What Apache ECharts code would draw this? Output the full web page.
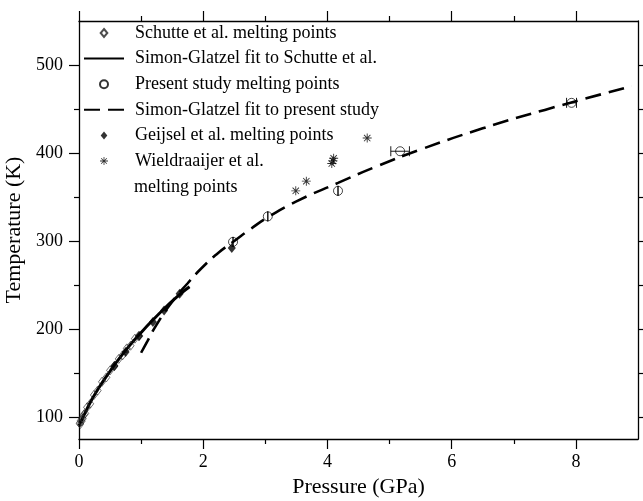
<!DOCTYPE html>
<html>
<head>
<meta charset="utf-8">
<script src="https://cdn.jsdelivr.net/npm/echarts@6/dist/echarts.min.js"></script>
<style>
  html, body { margin: 0; padding: 0; background: #fff; }
  #main { width: 643px; height: 501px; }
</style>
</head>
<body>
<div id="main"></div>
<script>
// melting data: [pressure GPa, temperature K]
var schuttePoints = [[0.01, 93], [0.02, 92], [0.03, 96], [0.04, 95], [0.05, 99], [0.06, 98],
  [0.08, 103], [0.1, 104], [0.13, 111], [0.18, 115], [0.24, 125], [0.3, 130], [0.37, 140],
  [0.44, 145], [0.5, 153], [0.57, 158], [0.64, 166], [0.7, 170], [0.77, 178], [0.83, 181],
  [0.9, 189], [0.96, 192]];
var schutteFit = [[0, 90], [0.1, 105], [0.2, 119], [0.3, 131], [0.4, 142], [0.5, 152], [0.6, 162],
  [0.8, 180], [1.0, 196], [1.2, 211], [1.4, 225], [1.6, 238], [1.78, 248]];
var presentPoints = [[2.48, 299], [3.04, 328], [4.17, 357], [5.17, 402], [7.93, 457]];
var presentErr = [0, 0, 0, 0.15, 0.08];
var presentFit = [[1.0, 173], [1.1, 186], [1.25, 205], [1.5, 231], [1.75, 252], [2.0, 271],
  [2.25, 287], [2.5, 300], [2.75, 313], [3.04, 327], [3.5, 345], [4.17, 366], [4.8, 385],
  [5.5, 404], [6.5, 428], [7.5, 449], [8.9, 476]];
var geijselPoints = [[0.57, 158], [0.75, 174], [0.97, 192], [1.19, 208], [1.37, 221], [1.62, 240], [2.46, 292]];
var wieldPoints = [[3.49, 357], [3.66, 368], [4.07, 388], [4.09, 391], [4.1, 394], [4.64, 417]];

var xMajor = [0, 2, 4, 6, 8];
var xMinor = [1, 3, 5, 7];
var yMajor = [100, 200, 300, 400, 500];
var yMinor = [150, 250, 350, 450];

var FONT = '"Liberation Serif", "Times New Roman", serif';
var diamond = 'path://M5 0L10 6L5 12L0 6Z';
var asterisk = 'path://M0 9L20 9L20 11L0 11Z M9 0L11 0L11 20L9 20Z M2.2 3.6L3.6 2.2L17.8 16.4L16.4 17.8Z M16.4 2.2L17.8 3.6L3.6 17.8L2.2 16.4Z';

var myChart = echarts.init(document.getElementById('main'));

function xAxisOf(pos, ticks, len, withLine, withLabel) {
  return {
    type: 'value', position: pos, min: 0, max: 9,
    splitLine: { show: false },
    axisLine: { show: withLine, onZero: false, lineStyle: { color: '#000', width: 1.3 } },
    axisTick: { show: true, inside: false, length: len, customValues: ticks, lineStyle: { color: '#000', width: 1.2 } },
    axisLabel: { show: withLabel, customValues: ticks, margin: 14, color: '#000', fontFamily: FONT, fontSize: 18 }
  };
}
function yAxisOf(pos, ticks, len, withLine, withLabel) {
  return {
    type: 'value', position: pos, min: 75, max: 550,
    splitLine: { show: false },
    axisLine: { show: withLine, onZero: false, lineStyle: { color: '#000', width: 1.3 } },
    axisTick: { show: true, inside: false, length: len, customValues: ticks, lineStyle: { color: '#000', width: 1.2 } },
    axisLabel: { show: withLabel, customValues: ticks, margin: 16, color: '#000', fontFamily: FONT, fontSize: 18 }
  };
}

var xMain = xAxisOf('bottom', xMajor, 10, true, true);
xMain.name = 'Pressure (GPa)';
xMain.nameLocation = 'middle';
xMain.nameGap = 35;
xMain.nameTextStyle = { color: '#000', fontFamily: FONT, fontSize: 22 };

var yMain = yAxisOf('left', yMajor, 10, true, true);
yMain.name = 'Temperature (K)';
yMain.nameLocation = 'middle';
yMain.nameGap = 42;
yMain.nameTextStyle = { color: '#000', fontFamily: FONT, fontSize: 22 };

var option = {
  animation: false,
  backgroundColor: '#fff',
  grid: { left: 79, right: 5, top: 21, bottom: 62, containLabel: false, outerBoundsMode: 'none' },
  xAxis: [xMain, xAxisOf('bottom', xMinor, 5, false, false),
    xAxisOf('top', xMajor, 10, true, false), xAxisOf('top', xMinor, 5, false, false)],
  yAxis: [yMain, yAxisOf('left', yMinor, 5, false, false),
    yAxisOf('right', yMajor, 10, true, false), yAxisOf('right', yMinor, 5, false, false)],
  legend: {
    orient: 'vertical',
    left: 83,
    top: 23,
    padding: 0,
    itemWidth: 40,
    itemHeight: 8,
    itemGap: 5.6,
    textStyle: { color: '#000', fontFamily: FONT, fontSize: 18, lineHeight: 20, padding: [0, 0, 0, 6] },
    data: [
      { name: 'Schutte et al. melting points' },
      { name: 'Simon-Glatzel fit to Schutte et al.', itemStyle: { opacity: 0 } },
      { name: 'Present study melting points' },
      { name: 'Simon-Glatzel fit to present study', itemStyle: { opacity: 0 } },
      { name: 'Geijsel et al. melting points' },
      { name: 'Wieldraaijer et al.' }
    ]
  },
  graphic: [{
    type: 'text', x: 134, y: 187,
    style: { text: 'melting points', font: '18px ' + FONT, fill: '#000', verticalAlign: 'middle' }
  }],
  series: [
    {
      name: 'Simon-Glatzel fit to Schutte et al.',
      type: 'line', symbol: 'none', smooth: true, z: 2,
      lineStyle: { color: '#000', width: 3 },
      data: schutteFit
    },
    {
      name: 'Simon-Glatzel fit to present study',
      type: 'line', symbol: 'none', smooth: true, z: 2,
      lineStyle: { color: '#000', width: 2.6, type: [16, 8] },
      data: presentFit
    },
    {
      name: 'Schutte et al. melting points',
      type: 'scatter', symbol: diamond, symbolSize: [7, 9], z: 3,
      itemStyle: { color: 'rgba(0,0,0,0)', borderColor: '#222', borderWidth: 0.8 },
      data: schuttePoints
    },
    {
      name: 'Present study melting points',
      type: 'scatter', symbol: 'circle', symbolSize: 9, z: 4,
      itemStyle: { color: 'rgba(0,0,0,0)', borderColor: '#000', borderWidth: 0.9 },
      data: presentPoints
    },
    {
      type: 'custom', z: 4,
      data: presentPoints.map(function (p, i) { return [p[0], p[1], presentErr[i]]; }),
      renderItem: function (params, api) {
        var lo = api.coord([api.value(0) - api.value(2), api.value(1)]);
        var hi = api.coord([api.value(0) + api.value(2), api.value(1)]);
        var h = 5;
        var st = { stroke: '#000', lineWidth: 0.9 };
        return {
          type: 'group',
          children: [
            { type: 'line', shape: { x1: lo[0], y1: lo[1], x2: hi[0], y2: hi[1] }, style: st },
            { type: 'line', shape: { x1: lo[0], y1: lo[1] - h, x2: lo[0], y2: lo[1] + h }, style: st },
            { type: 'line', shape: { x1: hi[0], y1: hi[1] - h, x2: hi[0], y2: hi[1] + h }, style: st }
          ]
        };
      }
    },
    {
      name: 'Geijsel et al. melting points',
      type: 'scatter', symbol: diamond, symbolSize: [8, 10], z: 5,
      itemStyle: { color: '#000' },
      data: geijselPoints
    },
    {
      name: 'Wieldraaijer et al.',
      type: 'scatter', symbol: asterisk, symbolSize: 9, z: 5,
      itemStyle: { color: '#000' },
      data: wieldPoints
    }
  ]
};

myChart.setOption(option);
</script>
</body>
</html>
